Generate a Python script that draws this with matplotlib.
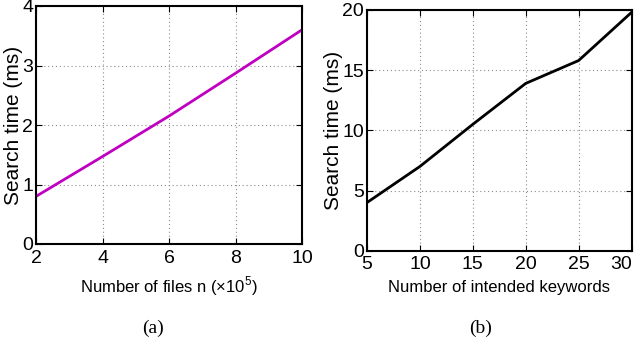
import matplotlib
matplotlib.use("Agg")
import matplotlib.pyplot as plt

# panel (a): search time vs number of files
files_n = [2, 4, 6, 8, 10]
time_a = [0.80, 1.47, 2.15, 2.87, 3.60]

# panel (b): search time vs number of intended keywords
keywords = [5, 10, 15, 20, 25, 30]
time_b = [4.0, 7.0, 10.5, 13.9, 15.8, 19.8]

plt.rcParams["font.family"] = ["Liberation Sans", "DejaVu Sans"]
plt.rcParams["mathtext.fontset"] = "custom"
plt.rcParams["mathtext.rm"] = "Liberation Sans"

fig = plt.figure(figsize=(6.4, 3.43), dpi=100)
ax1 = fig.add_axes([36 / 640, 1 - 244 / 343, 266 / 640, 238 / 343])
ax2 = fig.add_axes([367 / 640, 1 - 250.7 / 343, 264.5 / 640, 240.7 / 343])


def style(ax):
    ax.grid(True, color="#8c8c8c", linestyle=(0, (1, 2.5)), linewidth=0.8)
    ax.tick_params(direction="in", top=True, right=True, length=4, width=0.8,
                   labelsize=14)
    ax.tick_params(axis="x", pad=4)
    ax.tick_params(axis="y", pad=2)
    for s in ax.spines.values():
        s.set_linewidth(1.5)
    ax.yaxis.label.set_va("center")
    ax.xaxis.label.set_va("center")


ax1.plot(files_n, time_a, color="#c000c0", linewidth=2)
ax1.set_xlim(2, 10)
ax1.set_ylim(0, 4)
ax1.set_xticks([2, 4, 6, 8, 10])
ax1.set_yticks([0, 1, 2, 3, 4])
ax1.set_xlabel(r"Number of files n ($\times$10$^5$)", fontsize=12)
ax1.set_ylabel("Search time (ms)", fontsize=15)
style(ax1)
ax1.xaxis.set_label_coords(0.5, -0.176)
ax1.yaxis.set_label_coords(-0.083, 0.5)

ax2.plot(keywords, time_b, color="black", linewidth=2)
ax2.set_xlim(5, 30)
ax2.set_ylim(0, 20)
ax2.set_xticks([5, 10, 15, 20, 25, 30])
ax2.set_yticks([0, 5, 10, 15, 20])
ax2.set_xlabel("Number of intended keywords", fontsize=12)
ax2.set_ylabel("Search time (ms)", fontsize=15)
style(ax2)
ax2.xaxis.set_label_coords(0.5, -0.151)
ax2.yaxis.set_label_coords(-0.125, 0.5)
# keep the last tick label inside the figure, as in the original
ax2.get_xticklabels()[-1].set_ha("right")

fig.text(153 / 640, 1 - 328 / 343, "(a)", ha="center", va="center",
         family="Liberation Serif", fontsize=14)
fig.text(481 / 640, 1 - 328 / 343, "(b)", ha="center", va="center",
         family="Liberation Serif", fontsize=14)

fig.savefig("out.png", dpi=100)
